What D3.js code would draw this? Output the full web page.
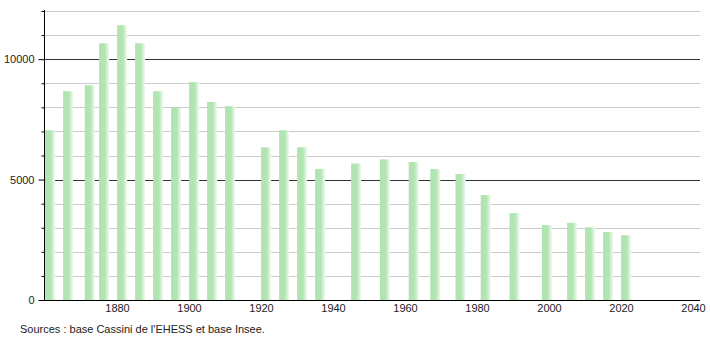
<!DOCTYPE html>
<html>
<head>
<meta charset="utf-8">
<script src="https://cdn.jsdelivr.net/npm/d3@7"></script>
<style>
  body { margin: 0; background: #fff; }
  svg { display: block; font-family: "Liberation Sans", Arial, sans-serif; }
</style>
</head>
<body>
<svg width="710" height="340"></svg>
<script>
// census years and population
var years = [1861, 1866, 1872, 1876, 1881, 1886, 1891, 1896, 1901, 1906, 1911,
             1921, 1926, 1931, 1936, 1946, 1954, 1962, 1968, 1975, 1982,
             1990, 1999, 2006, 2011, 2016, 2021];
var population = [7050, 8670, 8920, 10660, 11410, 10660, 8670, 7980, 9050, 8220, 8050,
                  6340, 7050, 6340, 5440, 5670, 5840, 5730, 5440, 5230, 4360,
                  3610, 3110, 3200, 3020, 2820, 2690];
var xTicks = [1880, 1900, 1920, 1940, 1960, 1980, 2000, 2020, 2040];
var yLabels = [0, 5000, 10000];
var source = "Sources : base Cassini de l'EHESS et base Insee.";

var svg = d3.select("svg");
var mLeft = 44, mRight = 700, mTop = 11, mBottom = 300;

var x = d3.scaleLinear().domain([1860, 2040]).range([45, 693]);
var y = d3.scaleLinear().domain([0, 12000]).range([mBottom, mTop]);

// bar gradient
var defs = svg.append("defs");
var grad = defs.append("linearGradient").attr("id", "barg")
  .attr("x1", "0%").attr("x2", "100%").attr("y1", "0%").attr("y2", "0%");
grad.append("stop").attr("offset", "0%").attr("stop-color", "#afe3af");
grad.append("stop").attr("offset", "55%").attr("stop-color", "#b2e5b2");
grad.append("stop").attr("offset", "80%").attr("stop-color", "#d3f0d3");
grad.append("stop").attr("offset", "100%").attr("stop-color", "#f2fbf2");

// gridlines every 1000
var grid = d3.range(1000, 12001, 1000);
svg.append("g").selectAll("line")
  .data(grid)
  .enter().append("line")
    .attr("x1", mLeft).attr("x2", mRight)
    .attr("y1", d => Math.round(y(d)) + 0.5)
    .attr("y2", d => Math.round(y(d)) + 0.5)
    .attr("stroke", d => d % 5000 === 0 ? "#333" : "#ccc")
    .attr("stroke-width", 1);

// bars
var bw = 10;
function barLeft(d) { return Math.max(mLeft + 1, x(d) + 1.5 - bw / 2); }
svg.append("g").selectAll("rect")
  .data(years)
  .enter().append("rect")
    .attr("x", barLeft)
    .attr("width", d => x(d) + 1.5 + bw / 2 - barLeft(d))
    .attr("y", (d, i) => y(population[i]))
    .attr("height", (d, i) => mBottom - y(population[i]))
    .attr("fill", "url(#barg)");

// y axis
var yAxis = d3.axisLeft(y)
  .tickValues(d3.range(0, 12001, 1000))
  .tickSize(3)
  .tickFormat(d => yLabels.indexOf(d) >= 0 ? d : "");
var gy = svg.append("g").attr("transform", "translate(" + (mLeft + 0.5) + ",0)").call(yAxis);
gy.select(".domain").remove();
gy.selectAll(".tick line").attr("x2", d => yLabels.indexOf(d) >= 0 ? -6 : -3).attr("stroke", "#000");
gy.selectAll(".tick text").attr("x", -10).attr("font-size", 11)
  .attr("font-family", "Liberation Sans, Arial, sans-serif").attr("fill", "#222");
svg.append("line").attr("x1", mLeft + 0.5).attr("x2", mLeft + 0.5)
  .attr("y1", mTop - 1).attr("y2", mBottom).attr("stroke", "#000");

// x axis
var xAxis = d3.axisBottom(x).tickValues(xTicks).tickSize(0).tickFormat(d3.format("d"));
var gx = svg.append("g").attr("transform", "translate(0," + mBottom + ")").call(xAxis);
gx.select(".domain").remove();
gx.selectAll(".tick text").attr("dy", "0.71em").attr("y", 4).attr("font-size", 11)
  .attr("font-family", "Liberation Sans, Arial, sans-serif").attr("fill", "#222");
svg.append("line").attr("x1", 39).attr("x2", mRight)
  .attr("y1", mBottom + 0.5).attr("y2", mBottom + 0.5).attr("stroke", "#000");

// source
svg.append("text").attr("x", 20).attr("y", 333)
  .attr("font-size", 11).attr("fill", "#222")
  .text(source);
</script>
</body>
</html>
